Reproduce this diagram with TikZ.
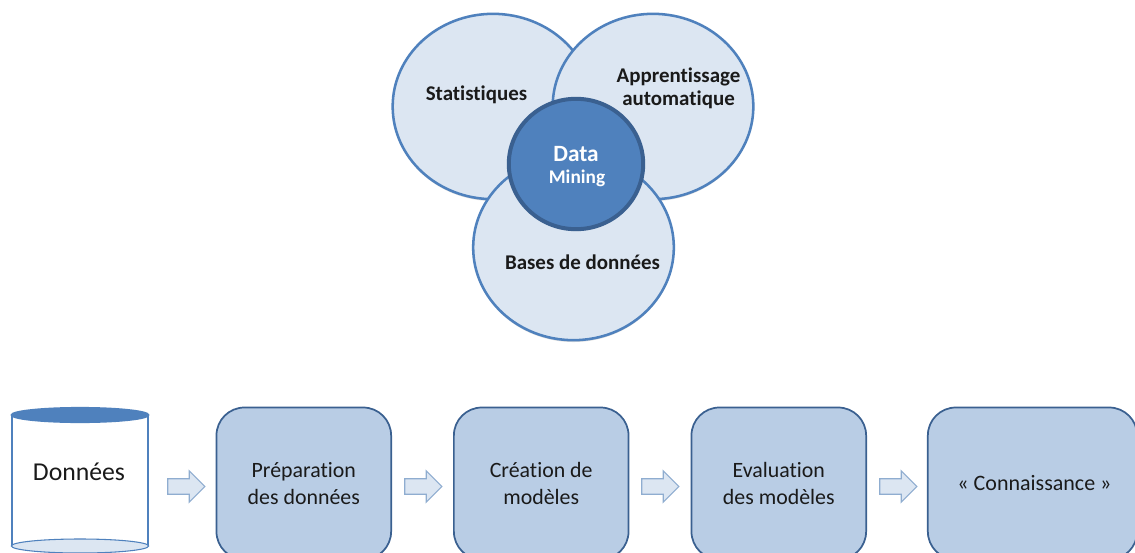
\documentclass[tikz,border=0pt]{standalone}
\usepackage{fontspec}
\setmainfont{Carlito}[Ligatures=NoCommon]
\usetikzlibrary{shapes.geometric,shapes.arrows,shadows}
\definecolor{lightfill}{HTML}{DCE6F2}
\definecolor{midblue}{HTML}{4F81BD}
\definecolor{darkblue}{HTML}{3A6090}
\definecolor{boxfill}{HTML}{B9CDE5}
\definecolor{arrowline}{HTML}{8FADD0}
\definecolor{inktext}{HTML}{1A1A1A}
\tikzset{
  softshadow/.style={drop shadow={opacity=0.13,shadow xshift=0pt,shadow yshift=-1.4pt,fill=black}},
  venn/.style={ellipse,draw=midblue,fill=lightfill,line width=1.9pt,minimum width=150.5pt,minimum height=139pt,inner sep=0pt,softshadow},
  core/.style={ellipse,draw=darkblue,fill=midblue,line width=3pt,minimum width=100.8pt,minimum height=97.8pt,inner sep=0pt,softshadow},
  vennlabel/.style={font=\fontsize{15.7}{17.4}\selectfont\bfseries,text=inktext,align=center,inner sep=0pt},
  stepbox/.style={rectangle,rounded corners=21pt,draw=darkblue,fill=boxfill,line width=1.3pt,minimum height=114pt,inner sep=0pt,align=center,font=\fontsize{16.4}{20.5}\selectfont,text=inktext},
  flowarrow/.style={single arrow,draw=arrowline,fill=lightfill,line width=0.9pt,minimum height=27.8pt,single arrow head extend=6pt,single arrow tip angle=90,single arrow head indent=0pt,inner xsep=0pt,inner ysep=0pt},
  lid/.style={ellipse,inner sep=0pt,minimum width=103pt,minimum height=11pt,line width=1.1pt,draw=midblue}
}
\newcommand{\shaftstrut}{\rule{0pt}{10.6pt}}
\begin{document}
\begin{tikzpicture}[x=0.75pt,y=-0.75pt]
\useasboundingbox (0,0) rectangle (1135,553);
\clip (0,0) rectangle (1135,553);
\fill[white] (0,0) rectangle (1135,553);
% Venn
\node[venn] (stat) at (493,106.5) {};
\node[venn] (appr) at (653,106.5) {};
\node[venn] (base) at (573.5,247.5) {};
\node[core] (dm) at (576,164) {};
\node[vennlabel] (statl) at (476.5,95) {Statistiques};
\node[vennlabel] (apprl) at (678.5,88.5) {Apprentissage\\automatique};
\node[vennlabel] (basel) at (582.5,262) {Bases de données};
\node[font=\fontsize{17.5}{20}\selectfont\bfseries,text=white,inner sep=0pt] (dml1) at (576,154) {Data};
\node[font=\fontsize{14.5}{16}\selectfont\bfseries,text=white,inner sep=0pt] (dml2) at (577,178.5) {Mining};
% Cylinder
\path[fill=white,draw=midblue,line width=1.5pt] (11.5,415) -- (11.5,546) (148,415) -- (148,546);
\node[lid,fill=lightfill,minimum height=10.5pt,line width=0.8pt] (cylbot) at (80,546) {};
\node[lid,fill=midblue] (cyltop) at (80,415) {};
\node[font=\fontsize{19.3}{22}\selectfont,text=inktext,inner sep=0pt] (data) at (79,472) {Données};
% Boxes
\node[stepbox,minimum width=131pt] (b1) at (303.8,483.5) {Préparation\\des données};
\node[stepbox,minimum width=131pt] (b2) at (541.2,483.5) {Création de\\modèles};
\node[stepbox,minimum width=131pt] (b3) at (778.8,483.5) {Evaluation\\des modèles};
\node[stepbox,minimum width=157pt] (b4) at (1032.5,483.5) {};
\node[font=\fontsize{16.5}{20.5}\selectfont,text=inktext,inner sep=0pt] (b4l) at (1034.5,483.5) {« Connaissance »};
% Arrows
\node[flowarrow] (a1) at (182.5,486.5) {\shaftstrut};
\node[flowarrow] (a2) at (419.5,486.5) {\shaftstrut};
\node[flowarrow] (a3) at (656.5,486.5) {\shaftstrut};
\node[flowarrow] (a4) at (894.5,486.5) {\shaftstrut};
\end{tikzpicture}
\end{document}
